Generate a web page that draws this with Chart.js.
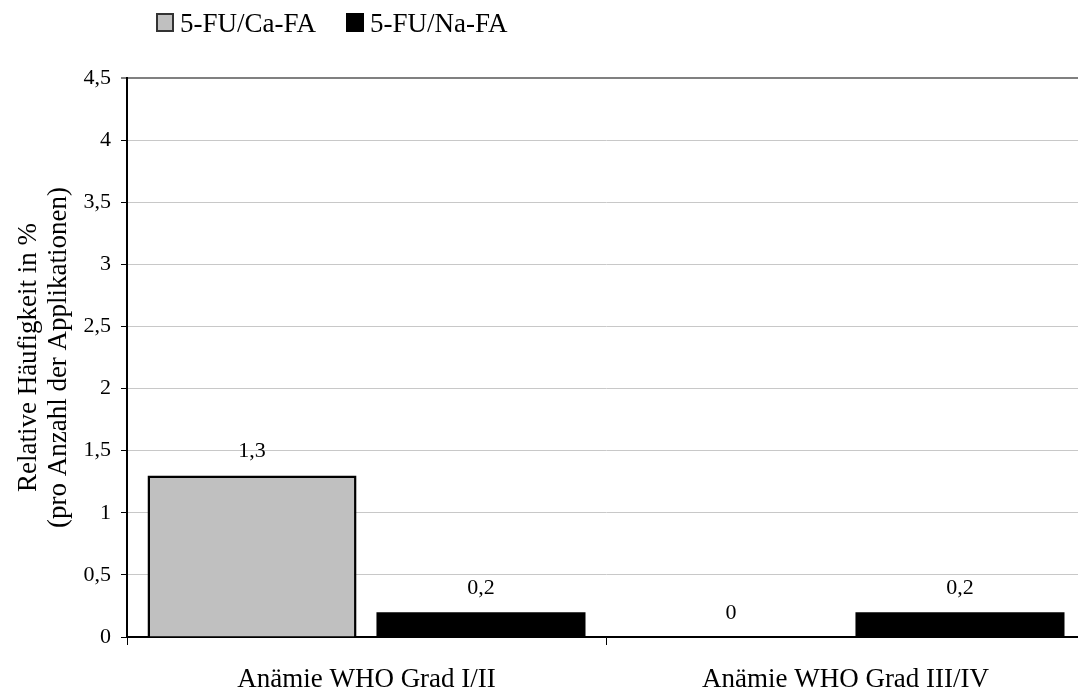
<!DOCTYPE html>
<html lang="de">
<head>
<meta charset="utf-8">
<title>Anämie WHO Grad</title>
<script src="https://cdn.jsdelivr.net/npm/chart.js@4.4.1/dist/chart.umd.min.js"></script>
<style>
    html, body { margin: 0; padding: 0; background: #fff; overflow: hidden; }
    #wrap { width: 1078px; height: 690px; overflow: hidden; }
</style>
</head>
<body>
<div id="wrap"><canvas id="chart" width="1085" height="690"></canvas></div>
<script>
// ============================================================
// DATA
// ============================================================
const categories = ['Anämie WHO Grad I/II', 'Anämie WHO Grad III/IV'];
const seriesNames = ['5-FU/Ca-FA', '5-FU/Na-FA'];
const caValues = [1.3, 0];
const naValues = [0.2, 0.2];
const yTicks = [0, 0.5, 1, 1.5, 2, 2.5, 3, 3.5, 4, 4.5];

const SERIF = '"Liberation Serif", "Times New Roman", serif';

function formatComma(v) {
    return String(v).replace('.', ',');
}

// ============================================================
// PLUGINS
// ============================================================
// legend drawn at the top left like the original
const topLegend = {
    id: 'topLegend',
    afterDraw(chart) {
        const ctx = chart.ctx;
        ctx.save();
        ctx.font = '27px ' + SERIF;
        ctx.textBaseline = 'alphabetic';
        ctx.textAlign = 'left';
        let x = 156;
        chart.data.datasets.forEach(ds => {
            ctx.fillStyle = ds.backgroundColor;
            ctx.fillRect(x, 13, 18, 19);
            ctx.strokeStyle = ds.legendBorder;
            ctx.lineWidth = 2;
            ctx.strokeRect(x + 1, 14, 16, 17);
            ctx.fillStyle = '#000';
            ctx.fillText(ds.label, x + 24, 32);
            x += 24 + ctx.measureText(ds.label).width + 30;
        });
        ctx.restore();
    }
};

// value labels above the bars
const valueLabels = {
    id: 'valueLabels',
    afterDatasetsDraw(chart) {
        const ctx = chart.ctx;
        ctx.save();
        ctx.font = '22px ' + SERIF;
        ctx.fillStyle = '#000';
        ctx.textAlign = 'center';
        ctx.textBaseline = 'middle';
        chart.data.datasets.forEach((ds, i) => {
            chart.getDatasetMeta(i).data.forEach((bar, j) => {
                ctx.fillText(formatComma(ds.data[j]), bar.x, bar.y - 24);
            });
        });
        ctx.restore();
    }
};

// ============================================================
// CHART
// ============================================================
new Chart(document.getElementById('chart'), {
    type: 'bar',
    data: {
        labels: categories,
        datasets: [{
            label: seriesNames[0],
            data: caValues,
            backgroundColor: '#c0c0c0',
            borderColor: '#000',
            borderWidth: 2.5,
            legendBorder: '#333',
            categoryPercentage: 0.956,
            barPercentage: 0.913
        }, {
            label: seriesNames[1],
            data: naValues,
            backgroundColor: '#000',
            borderColor: '#000',
            borderWidth: 0,
            legendBorder: '#000',
            categoryPercentage: 0.956,
            barPercentage: 0.913
        }]
    },
    options: {
        responsive: false,
        animation: false,
        layout: { padding: { top: 78, right: 0, left: 0, bottom: 0 } },
        plugins: {
            legend: { display: false },
            tooltip: { enabled: false }
        },
        scales: {
            x: {
                offset: true,
                grid: {
                    offset: true,
                    drawOnChartArea: false,
                    drawTicks: true,
                    tickLength: 8,
                    tickColor: '#000',
                    tickWidth: 1
                },
                border: { color: '#000', width: 1.5 },
                ticks: {
                    color: '#000',
                    font: { family: SERIF, size: 27 },
                    padding: 19
                },
                afterFit(scale) { scale.height = 53; }
            },
            y: {
                min: 0,
                max: 4.5,
                afterBuildTicks(scale) {
                    scale.ticks = yTicks.map(v => ({ value: v }));
                },
                grid: {
                    color: ctx => {
                        const v = ctx.tick ? ctx.tick.value : null;
                        if (v === 4.5) return '#808080';
                        if (v === 0) return '#000';
                        return '#c8c8c8';
                    },
                    lineWidth: ctx => (ctx.tick && ctx.tick.value === 4.5) ? 2 : 1,
                    tickColor: '#000',
                    tickLength: 6,
                    tickWidth: 1
                },
                border: { color: '#000', width: 2 },
                ticks: {
                    color: '#000',
                    font: { family: SERIF, size: 22 },
                    padding: 10,
                    callback: v => formatComma(v)
                },
                title: {
                    display: true,
                    text: ['Relative Häufigkeit in %', '(pro Anzahl der Applikationen)'],
                    color: '#000',
                    font: { family: SERIF, size: 27, lineHeight: 1.1 },
                    padding: { top: 14, bottom: 0 }
                },
                afterFit(scale) { scale.width = 127; }
            }
        }
    },
    plugins: [topLegend, valueLabels]
});
</script>
</body>
</html>
